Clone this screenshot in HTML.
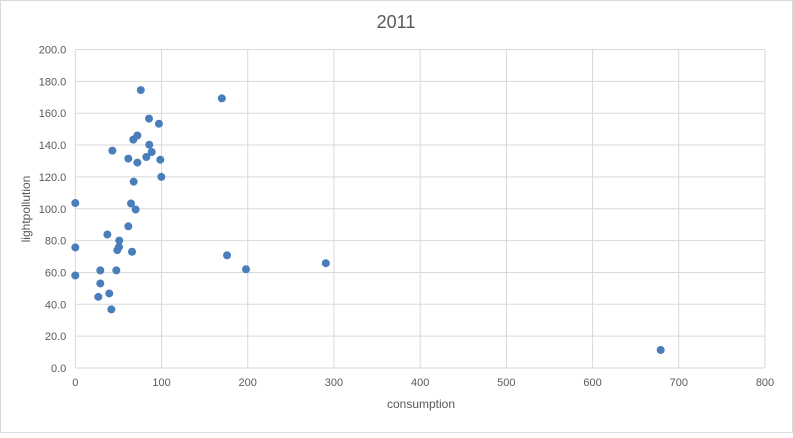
<!DOCTYPE html>
<html><head><meta charset="utf-8"><style>
body{margin:0;background:#fff;font-family:"Liberation Sans",sans-serif}
svg text{font-family:"Liberation Sans",sans-serif;fill:#595959}
</style></head><body>
<svg id="chart" width="793" height="433">
<rect x="0.5" y="0.5" width="792" height="432" fill="#fff" stroke="#d9d9d9"/>
<text x="396" y="28" text-anchor="middle" font-size="18">2011</text>
<g id="grid"></g><g id="pts"></g>
<text x="421" y="408" text-anchor="middle" font-size="12">consumption</text>
<text transform="translate(30,209) rotate(-90)" text-anchor="middle" font-size="12">lightpollution</text>
</svg>
<script>
const xTicks=[0,100,200,300,400,500,600,700,800];
const yTicks=[0,20,40,60,80,100,120,140,160,180,200];
const consumption=[76,85.5,97,72,67.3,85.8,43,88.6,61.5,82.4,98.6,72,99.8,67.7,0,64.6,70,61.5,37.2,51,50.7,48.7,65.8,0,29,47.6,0,29,39.4,26.7,41.8,170,176,198,290.6,679];
const lightpollution=[174.5,156.6,153.4,146,143.4,140.2,136.5,135.6,131.5,132.5,130.8,129,120,117,103.6,103.3,99.5,89,83.8,80,76,74,73,75.7,61.3,61.3,58.1,53.1,46.8,44.7,36.8,169.3,70.8,62,65.8,11.3];
const NS='http://www.w3.org/2000/svg';
const X0=75.3,X1=765,Y0=368,Y1=49.5;
const sx=v=>X0+(v-0)/800*(X1-X0), sy=v=>Y0-(v/200)*(Y0-Y1);
const grid=document.getElementById('grid'),pts=document.getElementById('pts');
function mk(t,a,p){const e=document.createElementNS(NS,t);for(const k in a)e.setAttribute(k,a[k]);p.appendChild(e);return e;}
xTicks.forEach(v=>{
 const l=mk('line',{x1:sx(v),x2:sx(v),y1:Y1,y2:Y0,stroke:'#d9d9d9'},grid);
 
 
 const t=mk('text',{x:sx(v),y:Y0+18,'text-anchor':'middle','font-size':'11'},grid);
 t.textContent=v;
 
 
});
yTicks.forEach(v=>{
 const l=mk('line',{x1:X0,x2:X1,y1:sy(v),y2:sy(v),stroke:'#d9d9d9'},grid);
 
 
 const t=mk('text',{x:X0-9,y:sy(v)+4,'text-anchor':'end','font-size':'11'},grid);
 t.textContent=v.toFixed(1);
 
 
});
consumption.forEach((c,i)=>{
 const p=mk('circle',{cx:sx(c),cy:sy(lightpollution[i]),r:4,fill:'#4a7ebb'},pts);
 
 
});
</script>
</body></html>
